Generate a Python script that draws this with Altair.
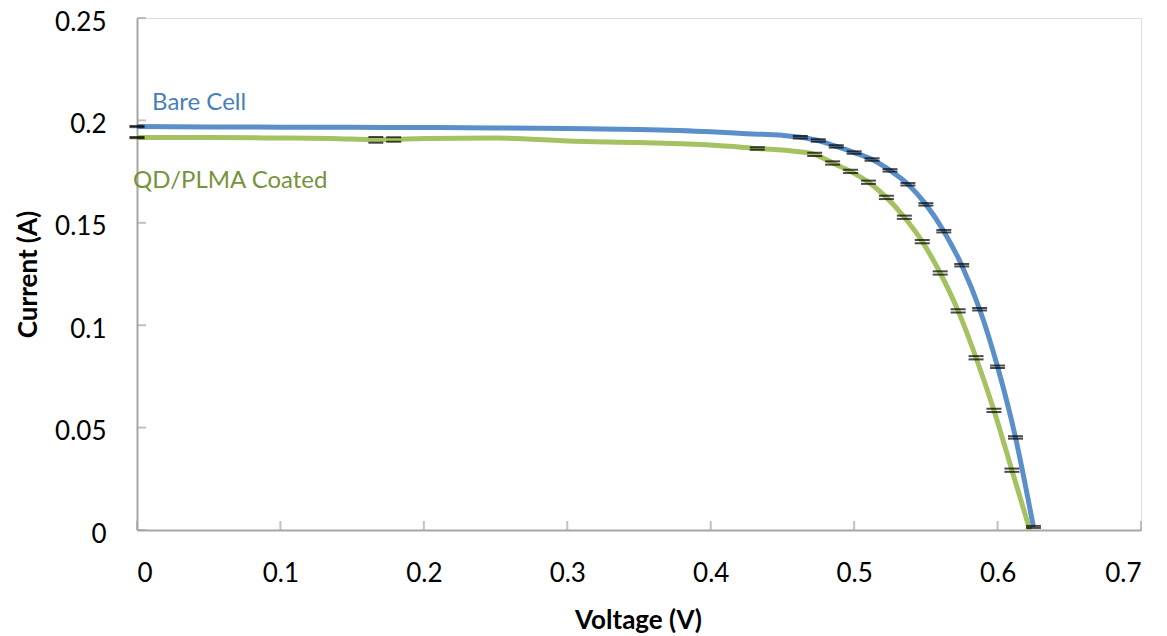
import altair as alt
import pandas as pd

# ---- data ----
bare_v = [0, 0.05, 0.1, 0.15, 0.2, 0.25, 0.3, 0.35, 0.4, 0.425, 0.45, 0.4625, 0.475, 0.4875,
          0.5, 0.5125, 0.525, 0.5375, 0.55, 0.5625, 0.575, 0.5875, 0.6, 0.6125, 0.625]
bare_i = [0.1970, 0.1968, 0.1967, 0.1966, 0.1965, 0.1963, 0.1960, 0.1955, 0.1944, 0.1935, 0.1927,
          0.1918, 0.1902, 0.1873, 0.1843, 0.1809, 0.1756, 0.1688, 0.1590, 0.1459, 0.1293, 0.1078,
          0.0797, 0.0452, 0.0015]
bare_err = [0.0003, None, None, None, None, None, None, None, None, None, None,
            0.0006, 0.0006, 0.0006, 0.0006, 0.0006, 0.0006, 0.0006, 0.0006, 0.0006, 0.0006,
            0.0006, 0.0006, 0.0006, 0.0005]

qd_v = [0, 0.05, 0.1, 0.135, 0.1665, 0.179, 0.2, 0.25, 0.275, 0.3, 0.35, 0.4, 0.4325, 0.46,
        0.4725, 0.485, 0.4975, 0.51, 0.5225, 0.535, 0.5475, 0.56, 0.5725, 0.585, 0.5975, 0.61, 0.6225]
qd_i = [0.1916, 0.1916, 0.1914, 0.1912, 0.1905, 0.1907, 0.1912, 0.1914, 0.1908, 0.1900, 0.1892,
        0.1880, 0.1863, 0.1848, 0.1834, 0.1792, 0.1751, 0.1698, 0.1624, 0.1527, 0.1408, 0.1255,
        0.1070, 0.0841, 0.0584, 0.0292, 0.0]
qd_err = [0.0003, None, None, None, 0.0014, 0.0011, None, None, None, None, None, None, 0.0006, None,
          0.0008, 0.0008, 0.0008, 0.0008, 0.0008, 0.0008, 0.0008, 0.0008, 0.0008, 0.0008, 0.0008,
          0.0008, None]

series_names = ["Bare Cell", "QD/PLMA Coated"]
series_colors = ["#5B8FC9", "#A4C261"]
label_colors = ["#4A7EBB", "#77933C"]
label_v = [0.0105, -0.0028]
label_i = [0.2084, 0.1702]

x_ticks = [0, 0.1, 0.2, 0.3, 0.4, 0.5, 0.6, 0.7]
y_ticks = [0, 0.05, 0.1, 0.15, 0.2, 0.25]

# ---- tables ----
df = pd.concat([
    pd.DataFrame({"v": bare_v, "i": bare_i, "err": bare_err, "s": series_names[0]}),
    pd.DataFrame({"v": qd_v, "i": qd_i, "err": qd_err, "s": series_names[1]}),
], ignore_index=True)
df_err = df[df["err"].notna()].copy()
df_lab = pd.DataFrame({"v": label_v, "i": label_i, "s": series_names, "c": label_colors})
df_xt = pd.DataFrame({"v": x_ticks})
df_yt = pd.DataFrame({"i": y_ticks})

FONT = "Lato"
W, H = 1004, 512
xscale = alt.Scale(domain=[0, 0.7], nice=False, zero=False)
yscale = alt.Scale(domain=[0, 0.25], nice=False, zero=False)

xaxis = alt.Axis(values=x_ticks, format="~g", ticks=False, grid=False, labelPadding=30,
                 labelFont=FONT, labelFontSize=26, labelColor="#000000",
                 title="Voltage (V)", titleFont=FONT, titleFontSize=26, titleFontWeight="bold",
                 titleColor="#000000", titleX=501, titleY=90, titleAlign="center",
                 titleBaseline="middle", domainColor="#A6A6A6", domainWidth=2)
yaxis = alt.Axis(values=y_ticks, format="~g", ticks=False, grid=False, labelPadding=31,
                 labelOffset=4,
                 labelFont=FONT, labelFontSize=26, labelColor="#000000",
                 title="Current (A)", titleFont=FONT, titleFontSize=26, titleFontWeight="bold",
                 titleColor="#000000", titleX=-109, titleY=256, titleAlign="center",
                 titleBaseline="middle", titleAngle=-90, domainColor="#A6A6A6", domainWidth=2)

color = alt.Color("s:N", scale=alt.Scale(domain=series_names, range=series_colors), legend=None)

lines = alt.Chart(df).mark_line(strokeWidth=5, interpolate="monotone").encode(
    x=alt.X("v:Q", scale=xscale, axis=xaxis),
    y=alt.Y("i:Q", scale=yscale, axis=yaxis),
    color=color,
    order=alt.Order("v:Q"),
)

err_base = alt.Chart(df_err).transform_calculate(
    hi="datum.i + datum.err", lo="datum.i - datum.err")
err_hi = err_base.mark_tick(orient="horizontal", size=15, thickness=2, color="#000000").encode(
    x=alt.X("v:Q", scale=xscale), y=alt.Y("hi:Q", scale=yscale))
err_lo = err_base.mark_tick(orient="horizontal", size=15, thickness=2, color="#000000").encode(
    x=alt.X("v:Q", scale=xscale), y=alt.Y("lo:Q", scale=yscale))

xt = alt.Chart(df_xt).mark_tick(orient="vertical", size=9, thickness=2, color="#A6A6A6",
                                 yOffset=-4.5).encode(
    x=alt.X("v:Q", scale=xscale), y=alt.Y(datum=0, scale=yscale))
yt = alt.Chart(df_yt).mark_tick(orient="horizontal", size=9, thickness=2, color="#A6A6A6",
                                 xOffset=4.5).encode(
    y=alt.Y("i:Q", scale=yscale), x=alt.X(datum=0, scale=xscale))

labels = alt.Chart(df_lab).mark_text(align="left", baseline="middle", font=FONT, fontSize=24).encode(
    x=alt.X("v:Q", scale=xscale), y=alt.Y("i:Q", scale=yscale),
    text="s:N", color=alt.Color("c:N", scale=None))

chart = alt.layer(xt, yt, lines, err_hi, err_lo, labels).properties(
    width=W, height=H,
    autosize=alt.AutoSizeParams(type="none"),
    padding={"left": 129, "top": 10, "right": 18, "bottom": 108},
).configure_view(stroke="#BFBFBF", strokeWidth=2).configure(background="#FFFFFF")

chart.save("out.html", embed_options={"renderer": "svg", "actions": False})
